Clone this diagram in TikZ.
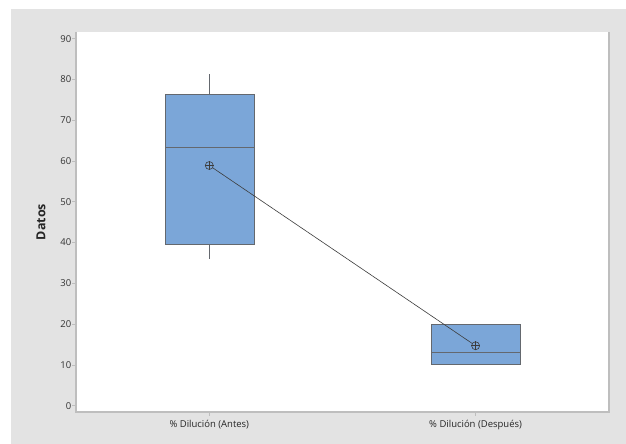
\documentclass[tikz,border=0pt]{standalone}
\usepackage{fontspec}
\setmainfont{Open Sans}
\usetikzlibrary{positioning}

\definecolor{panelgray}{RGB}{227,227,227}
\definecolor{framegray}{RGB}{190,190,190}
\definecolor{boxblue}{RGB}{123,166,216}
\definecolor{boxline}{RGB}{100,104,110}
\definecolor{inkgray}{RGB}{60,60,60}

\begin{document}
\begin{tikzpicture}[
	x = 1pt,
	y = 1pt,
	font = \fontsize{9.5}{11}\selectfont,
	box/.style = {
		draw = boxline,
		fill = boxblue,
		line width = 1pt
	},
	whisker/.style = {
		draw = boxline,
		line width = 1pt
	},
	meanpt/.style = {
		draw = inkgray,
		circle,
		inner sep = 0pt,
		minimum size = 8pt,
		line width = 0.6pt
	},
	tick/.style = {
		draw = framegray,
		line width = 0.6pt
	}
	]
	\useasboundingbox (0,0) rectangle (626,444);
	\fill[panelgray] (11,0) rectangle (626,435);
	\fill[white] (76,32) rectangle (609,412);
	\draw[framegray, line width = 1.2pt] (76,412) |- (609,32) -- (609,412);
	\coordinate (O) at (76,38.3);

	% y axis
	\foreach \v in {0,10,...,90} {
		\draw[tick] ([xshift=-4pt, yshift=4.078*\v]O) -- ([yshift=4.078*\v]O);
		\node[left = 3.5pt of {[yshift=4.078*\v]O}, inner sep = 1pt, text = black!80] (yl\v) {\v};
	}
	\node[rotate = 90, font = \fontsize{12.5}{14}\selectfont\bfseries, text = black!85] (ylab) at (41,222) {Datos};

	% x axis
	\draw[tick] (209.3,32) -- (209.3,28);
	\draw[tick] (475.6,32) -- (475.6,28);
	\node[text = black!85] (xa) at (209.3,19) {\% Dilución (Antes)};
	\node[text = black!85] (xd) at (475.6,19) {\% Dilución (Después)};

	% Antes
	\draw[whisker] (209.3,{38.3+4.078*76.2}) -- (209.3,{38.3+4.078*81.3});
	\draw[whisker] (209.3,{38.3+4.078*39.6}) -- (209.3,{38.3+4.078*36.0});
	\draw[box] (165.7,{38.3+4.078*39.6}) rectangle (254,{38.3+4.078*76.2});
	\draw[whisker] (165.7,{38.3+4.078*63.2}) -- (254,{38.3+4.078*63.2});

	% Despues
	\draw[box] (431,{38.3+4.078*10.0}) rectangle (520,{38.3+4.078*20.0});
	\draw[whisker] (431,{38.3+4.078*13.1}) -- (520,{38.3+4.078*13.1});

	% medias
	\node[meanpt] (mA) at (209.3,{38.3+4.078*58.9}) {};
	\node[meanpt] (mD) at (475.6,{38.3+4.078*14.7}) {};
	\foreach \m in {mA,mD}
		\draw[inkgray, line width = 0.6pt] (\m.north) -- (\m.south) (\m.west) -- (\m.east);
	\draw[inkgray, line width = 0.6pt] (mA) -- (mD);
\end{tikzpicture}
\end{document}
